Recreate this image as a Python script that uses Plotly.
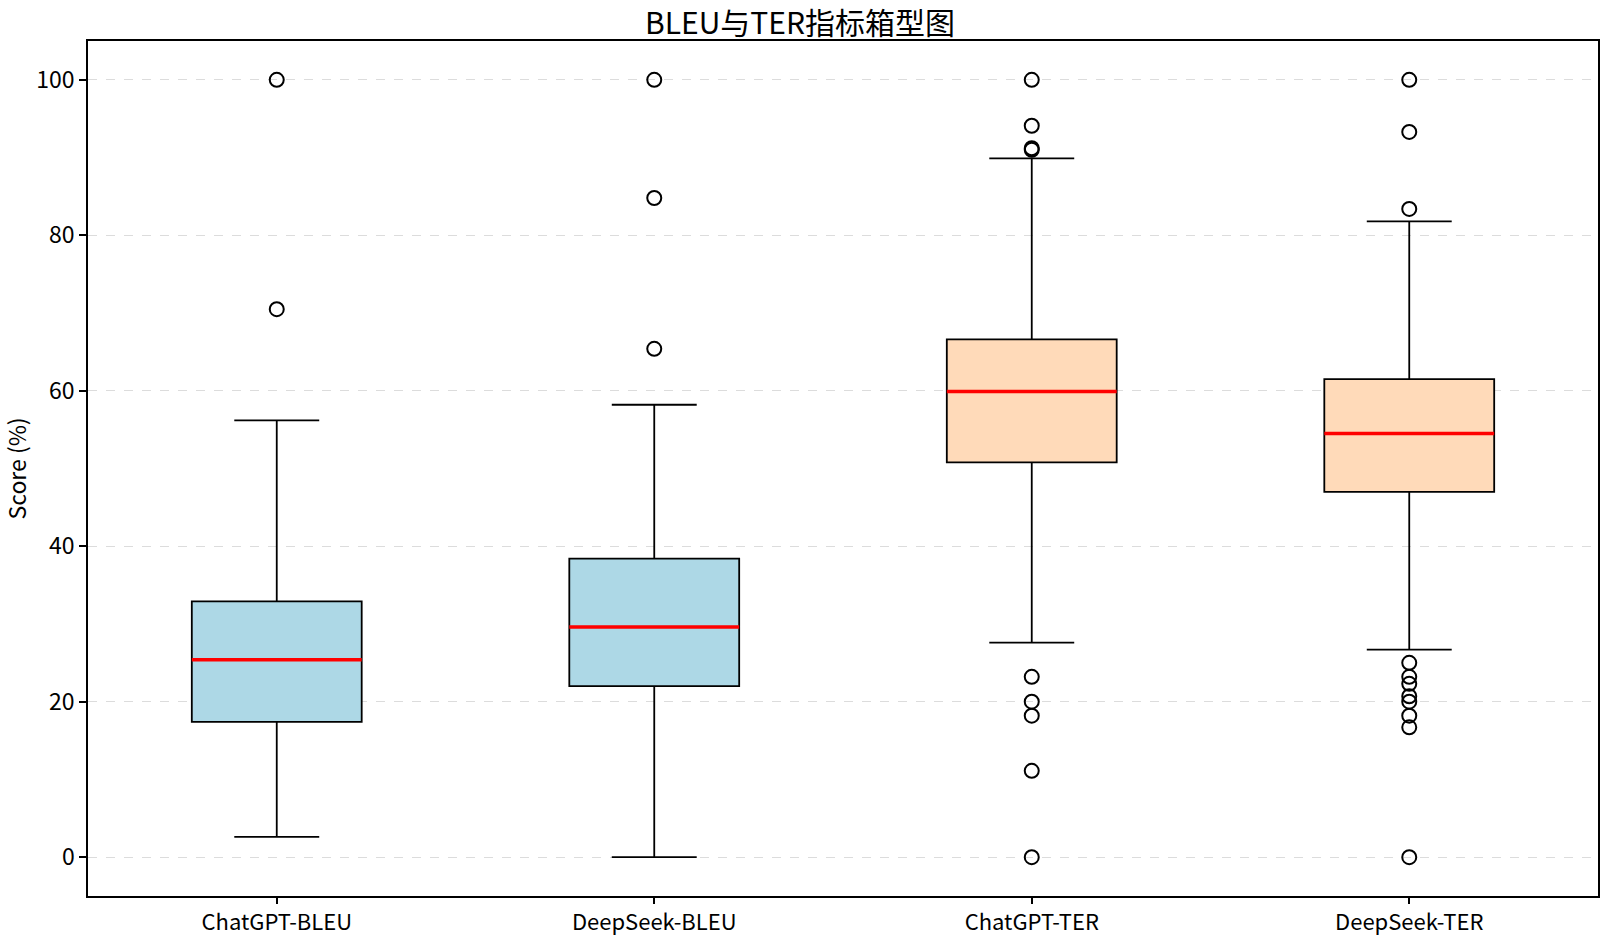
import plotly.graph_objects as go

categories = ["ChatGPT-BLEU", "DeepSeek-BLEU", "ChatGPT-TER", "DeepSeek-TER"]
lower_whisker = [2.6, 0.0, 27.6, 26.7]
q1_vals = [17.4, 22.0, 50.8, 47.0]
median_vals = [25.4, 29.6, 59.9, 54.5]
q3_vals = [32.9, 38.4, 66.6, 61.5]
upper_whisker = [56.2, 58.2, 89.9, 81.8]
outliers = [
    [70.5, 100.0],
    [65.4, 84.8, 100.0],
    [100.0, 94.1, 91.2, 91.0, 23.2, 20.0, 18.2, 11.1, 0.0],
    [100.0, 93.3, 83.4, 25.0, 23.2, 22.3, 20.7, 20.0, 18.2, 16.7, 0.0],
]
fill_colors = ["#add8e6", "#add8e6", "#ffdab9", "#ffdab9"]
positions = [0, 1, 2, 3]
box_width = 0.45

fig = go.Figure()
for i, cat in enumerate(categories):
    fig.add_trace(go.Box(
        x=[positions[i]], q1=[q1_vals[i]], median=[median_vals[i]], q3=[q3_vals[i]],
        lowerfence=[lower_whisker[i]], upperfence=[upper_whisker[i]],
        width=box_width, whiskerwidth=0.5, fillcolor=fill_colors[i],
        line=dict(color="black", width=1.8), name=cat, showlegend=False,
        hoverinfo="skip",
    ))
    fig.add_trace(go.Scatter(
        x=[positions[i] - box_width / 2, positions[i] + box_width / 2],
        y=[median_vals[i], median_vals[i]], mode="lines",
        line=dict(color="red", width=3.5), showlegend=False, hoverinfo="skip",
    ))
    fig.add_trace(go.Scatter(
        x=[positions[i]] * len(outliers[i]), y=outliers[i], mode="markers",
        marker=dict(symbol="circle-open", size=14, color="black", line=dict(width=2)),
        showlegend=False,
    ))

fig.update_layout(
    width=1600, height=939,
    margin=dict(l=88, r=2, t=41, b=43),
    paper_bgcolor="white", plot_bgcolor="white",
    font=dict(family="Noto Sans CJK SC, Noto Sans, sans-serif", size=23, color="black"),
    title=dict(text="BLEU与TER指标箱型图", x=0.5, xanchor="center", y=0.975, yanchor="middle",
               font=dict(size=30)),
)
fig.add_annotation(
    text="Score (%)", xref="paper", yref="paper", x=0, y=0.5,
    xanchor="center", yanchor="middle", xshift=-73, textangle=-90,
    showarrow=False, font=dict(size=23, color="black"),
)
fig.update_xaxes(
    range=[-0.5, 3.5], tickvals=positions, ticktext=categories,
    showline=True, linecolor="black", linewidth=1.5, mirror=True,
    ticks="outside", ticklen=6, tickcolor="black", tickwidth=1.5,
    tickfont=dict(size=22),
    showgrid=False, zeroline=False, automargin=False,
)
fig.update_yaxes(
    range=[-5, 105], tickvals=[0, 20, 40, 60, 80, 100],
    showline=True, linecolor="black", linewidth=1.5, mirror=True,
    ticks="outside", ticklen=7, tickcolor="black", tickwidth=1.5,
    showgrid=True, gridcolor="#dcdcdc", griddash="dash", gridwidth=1.2, zeroline=False,
    automargin=False,
)

fig.write_html(
    "out.html",
    config={"displayModeBar": False},
    post_script="document.body.style.margin='0px';document.body.style.overflow='hidden';",
)
